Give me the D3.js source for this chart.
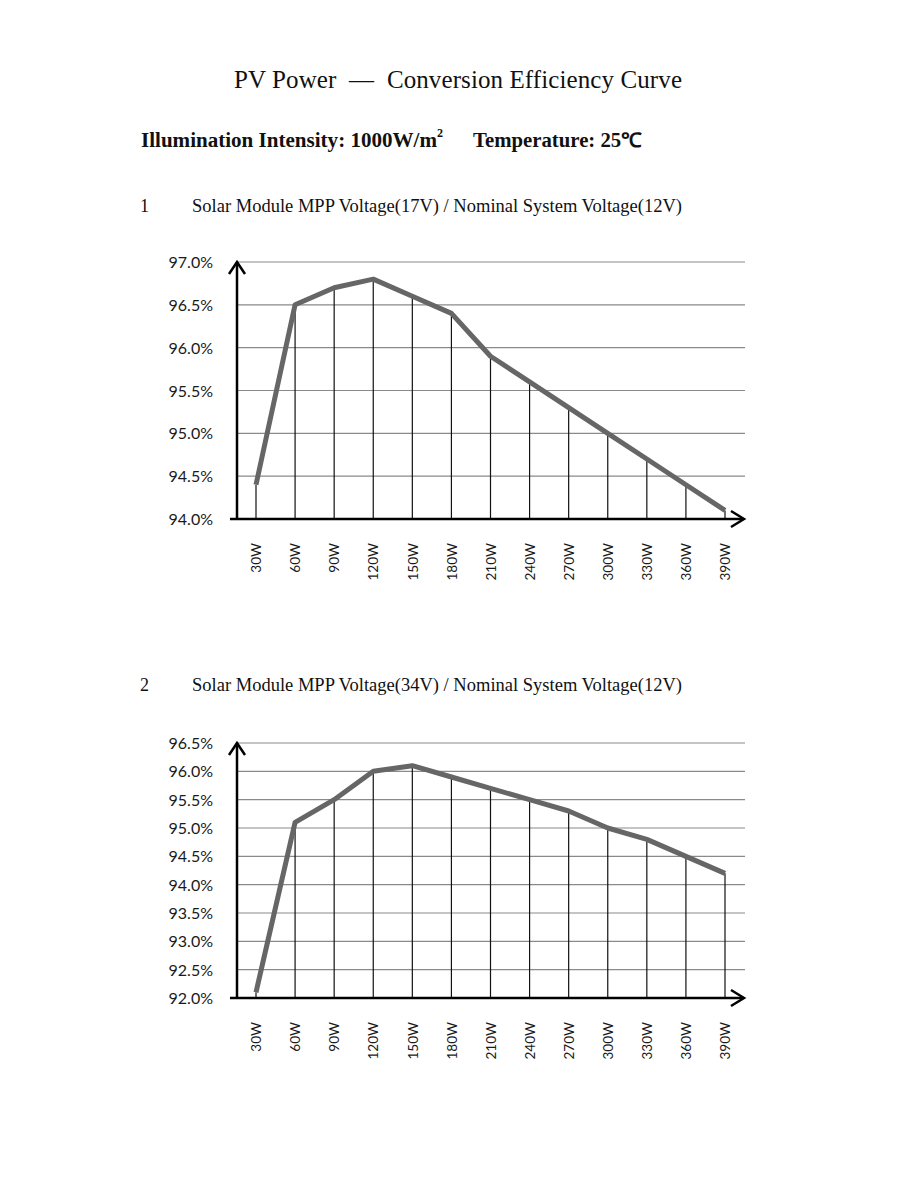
<!DOCTYPE html>
<html><head><meta charset="utf-8">
<script src="https://cdn.jsdelivr.net/npm/d3@7"></script>
<style>
body{margin:0;background:#fff;}
svg{display:block;}
</style></head>
<body>
<svg id="page" width="918" height="1188"></svg>
<script>
const categories = ["30W","60W","90W","120W","150W","180W","210W","240W","270W","300W","330W","360W","390W"];
const eff17V = [94.4,96.5,96.7,96.8,96.6,96.4,95.9,95.6,95.3,95.0,94.7,94.4,94.1];
const eff34V = [92.1,95.1,95.5,96.0,96.1,95.9,95.7,95.5,95.3,95.0,94.8,94.5,94.2];
const ticks1 = [94.0,94.5,95.0,95.5,96.0,96.5,97.0];
const ticks2 = [92.0,92.5,93.0,93.5,94.0,94.5,95.0,95.5,96.0,96.5];
const mainTitle = "PV Power  —  Conversion Efficiency Curve";
const subtitle1 = "Illumination Intensity: 1000W/m";
const subtitle2 = "Temperature: 25℃";
const chartTitles = ["Solar Module MPP Voltage(17V) / Nominal System Voltage(12V)",
                     "Solar Module MPP Voltage(34V) / Nominal System Voltage(12V)"];

const svg = d3.select("#page");
const serif = "'Liberation Serif','Times New Roman',serif";
const sans = "Lato,'Open Sans',sans-serif";

svg.append("text").attr("x",234).attr("y",88).attr("font-family",serif).attr("font-size",25)
  .attr("fill","#111").attr("xml:space","preserve")
  .attr("textLength",448).attr("lengthAdjust","spacing").text(mainTitle);

svg.append("text").attr("x",141).attr("y",147).attr("font-family",serif).attr("font-size",20)
  .attr("font-weight","bold").attr("fill","#111")
  .attr("textLength",296).attr("lengthAdjust","spacingAndGlyphs").text(subtitle1);
svg.append("text").attr("x",437).attr("y",137).attr("font-family",serif).attr("font-size",12)
  .attr("font-weight","bold").attr("fill","#111").text("2");
svg.append("text").attr("x",473).attr("y",147).attr("font-family",serif).attr("font-size",20)
  .attr("font-weight","bold").attr("fill","#111")
  .attr("textLength",169).attr("lengthAdjust","spacingAndGlyphs").text(subtitle2);

function drawChart(idx, topTitleY, values, ticks, top, bottom){
  svg.append("text").attr("x",140).attr("y",topTitleY).attr("font-family",serif).attr("font-size",18)
    .attr("fill","#111").text(String(idx));
  svg.append("text").attr("x",192).attr("y",topTitleY).attr("font-family",serif).attr("font-size",18.5)
    .attr("fill","#111").attr("textLength",490).attr("lengthAdjust","spacingAndGlyphs").text(chartTitles[idx-1]);

  const x = d3.scalePoint().domain(categories).range([256,725]);
  const y = d3.scaleLinear().domain([ticks[0], ticks[ticks.length-1]]).range([bottom, top]);
  const g = svg.append("g");
  const axisLeft = 237, axisRight = 745;

  g.selectAll("line.grid").data(ticks.slice(1)).join("line")
    .attr("x1",axisLeft).attr("x2",axisRight)
    .attr("y1",d=>y(d)).attr("y2",d=>y(d))
    .attr("stroke","#8a8a8a").attr("stroke-width",1.2);

  const yAxis = d3.axisLeft(y).tickValues(ticks).tickFormat(d=>d.toFixed(1)+"%").tickSize(0).tickPadding(0);
  const ya = g.append("g").attr("transform",`translate(213,0)`).call(yAxis);
  ya.select(".domain").remove();
  ya.selectAll("text").attr("font-family",sans).attr("font-size",16).attr("fill","#1a1a1a").attr("dy","0.35em");

  g.selectAll("line.drop").data(values).join("line")
    .attr("x1",(d,i)=>x(categories[i])).attr("x2",(d,i)=>x(categories[i]))
    .attr("y1",d=>y(d)).attr("y2",bottom)
    .attr("stroke","#111").attr("stroke-width",1.2);

  const xAxis = d3.axisBottom(x).tickSize(0).tickPadding(0);
  const xa = g.append("g").attr("transform",`translate(0,${bottom})`).call(xAxis);
  xa.select(".domain").remove();
  xa.selectAll("text").attr("font-family",sans).attr("font-size",13.5).attr("fill","#1a1a1a")
    .attr("text-anchor","end").attr("transform","rotate(-90)")
    .attr("x",-24).attr("y",0).attr("dy","0.35em");

  const line = d3.line().x((d,i)=>x(categories[i])).y(d=>y(d));
  g.append("path").datum(values).attr("d",line).attr("fill","none")
    .attr("stroke","#666").attr("stroke-width",5).attr("stroke-linejoin","round");

  g.append("line").attr("x1",230).attr("x2",axisRight-2).attr("y1",bottom).attr("y2",bottom)
    .attr("stroke","#000").attr("stroke-width",2.5);
  g.append("line").attr("x1",axisLeft).attr("x2",axisLeft).attr("y1",bottom+1).attr("y2",top)
    .attr("stroke","#000").attr("stroke-width",2.5);
  g.append("path").attr("d",`M${axisLeft-8},${top+12} L${axisLeft},${top} L${axisLeft+8},${top+12}`)
    .attr("fill","none").attr("stroke","#000").attr("stroke-width",2.5);
  g.append("path").attr("d",`M${axisRight-14},${bottom-8} L${axisRight-1},${bottom} L${axisRight-14},${bottom+8}`)
    .attr("fill","none").attr("stroke","#000").attr("stroke-width",2.5);
}

drawChart(1, 212, eff17V, ticks1, 262, 519);
drawChart(2, 691, eff34V, ticks2, 743, 998);
</script>
</body></html>
